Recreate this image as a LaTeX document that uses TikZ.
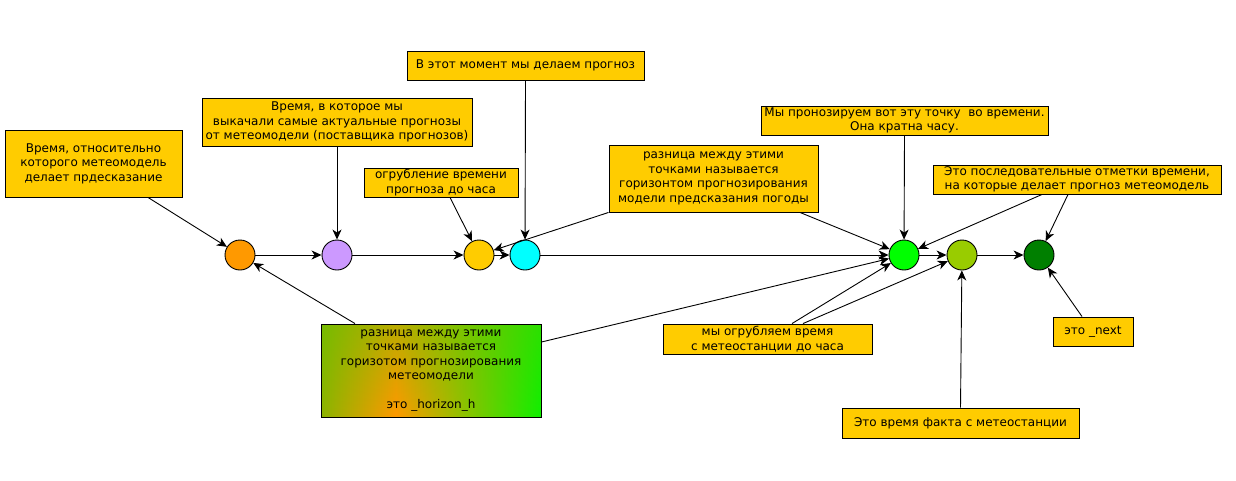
\documentclass[tikz,border=0pt]{standalone}
\usepackage{fontspec}
\setmainfont{DejaVu Sans}
\usetikzlibrary{arrows.meta,fadings}
\definecolor{boxfill}{HTML}{FFCC00}
\definecolor{cOrange}{HTML}{FF9900}
\definecolor{cPurple}{HTML}{CC99FF}
\definecolor{cYellow}{HTML}{FFCC00}
\definecolor{cCyan}{HTML}{00FFFF}
\definecolor{cGreen}{HTML}{00FF00}
\definecolor{cYGreen}{HTML}{99CC00}
\definecolor{cDGreen}{HTML}{007F00}
\definecolor{gOlive}{HTML}{8CB400}
\definecolor{gOrange}{HTML}{FF9900}
\definecolor{gGreen}{HTML}{10F000}
\definecolor{gTop}{HTML}{55C800}
\pgfdeclarehorizontalshading{hzshade}{100bp}{color(0bp)=(gOlive); color(25bp)=(gOlive); color(42bp)=(gOrange); color(75bp)=(gGreen); color(100bp)=(gGreen)}
\begin{document}
\begin{tikzpicture}[x=1pt,y=-1pt,
  box/.style={draw=black, fill=boxfill, line width=0.9pt, align=center, inner sep=0pt,
    font=\fontsize{12}{14.5}\selectfont},
  pt/.style={circle, draw=black, line width=0.9pt, minimum size=30pt, inner sep=0pt},
  arr/.style={draw=black, line width=0.9pt, -{Stealth[length=10pt,width=9pt,inset=3pt]}}]
\useasboundingbox (0,0) rectangle (1236,480);
\fill[white] (0,0) rectangle (1236,480);

% time points
\node[pt, fill=cOrange] (orange) at (240,255) {};
\node[pt, fill=cPurple] (purple) at (337,255) {};
\node[pt, fill=cYellow] (yellow) at (479,255) {};
\node[pt, fill=cCyan] (cyan) at (525,255) {};
\node[pt, fill=cGreen] (green) at (904,255) {};
\node[pt, fill=cYGreen] (ygreen) at (962,255) {};
\node[pt, fill=cDGreen] (dgreen) at (1039,255) {};

% boxes
\node[box, minimum width=177pt, minimum height=67pt] (b1) at (93.5,163.5)
  {Время, относительно\\которого метеомодель\\делает прдесказание};
\node[box, minimum width=270pt, minimum height=48pt] (b2) at (337,122)
  {Время, в которое мы\\выкачали самые актуальные прогнозы\\от метеомодели (поставщика прогнозов)};
\node[box, minimum width=237pt, minimum height=29pt] (b3) at (525.5,65.5)
  {В этот момент мы делаем прогноз};
\node[box, minimum width=154pt, minimum height=29pt] (b4) at (441,182.5)
  {огрубление времени\\прогноза до часа};
\node[box, minimum width=209pt, minimum height=67pt] (b5) at (713.5,178.5)
  {разница между этими\\точками называется\\горизонтом прогнозирования\\модели предсказания погоды};
\node[box, minimum width=287pt, minimum height=29pt] (b6) at (904.5,120.5)
  {Мы пронозируем вот эту точку\ \ во времени.\\Она кратна часу.};
\node[box, minimum width=288pt, minimum height=29pt] (b7) at (1077,179.5)
  {Это последовательные отметки времени,\\на которые делает прогноз метеомодель};
\shade[shading=hzshade] (321,324) rectangle (541,417);
\fill[gTop, path fading=south, fill opacity=0.4] (321,324) rectangle (541,417);
\node[box, fill=none, minimum width=220pt, minimum height=93pt] (b8) at (431,370.5)
  {разница между этими\\точками называется\\горизотом прогнозирования\\метеомодели\\[14.5pt]это \_horizon\_h};
\node[box, minimum width=209pt, minimum height=30pt] (b9) at (767.5,339)
  {мы огрубляем время\\с метеостанции до часа};
\node[box, minimum width=80pt, minimum height=29pt] (b10) at (1093,331.5)
  {это \_next};
\node[box, minimum width=237pt, minimum height=30pt] (b11) at (960.5,423)
  {Это время факта с метеостанции};

% timeline
\draw[arr] (orange) -- (purple);
\draw[arr] (purple) -- (yellow);
\draw[arr] (yellow) -- (cyan);
\draw[arr] (cyan) -- (green);
\draw[arr] (green) -- (ygreen);
\draw[arr] (ygreen) -- (dgreen);

% annotations
\draw[arr] ([xshift=54.5pt]b1.south) -- (orange);
\draw[arr] (b2.south) -- (purple);
\draw[arr] (b3.south) -- (cyan);
\draw[arr] ([xshift=9pt]b4.south) -- (yellow);
\draw[arr] (b5.south west) -- (yellow);
\draw[arr] ([xshift=86.5pt]b5.south) -- (green);
\draw[arr] (b6.south) -- (green);
\draw[arr] ([xshift=-35pt]b7.south) -- (green);
\draw[arr] ([xshift=-9pt]b7.south) -- (dgreen);
\draw[arr] ([xshift=-76pt]b8.north) -- (orange);
\draw[arr] ([yshift=28.5pt]b8.east) -- (green);
\draw[arr] ([xshift=24.5pt]b9.north) -- (green);
\draw[arr] ([xshift=35.5pt]b9.north) -- (ygreen);
\draw[arr] (b11.north) -- (ygreen);
\draw[arr] ([xshift=-11pt]b10.north) -- (dgreen);
\end{tikzpicture}
\end{document}
